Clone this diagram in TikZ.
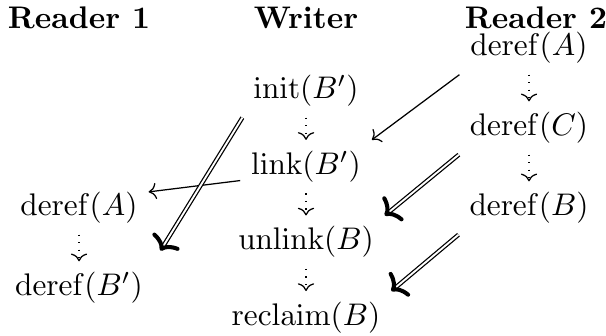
\documentclass[tikz,border=0pt]{standalone}
\usepackage{amsmath, amssymb}
\usepackage{tikz}
\usetikzlibrary{positioning, arrows.meta}

\begin{document}
\begin{tikzpicture}[
            node distance=0.25cm,
            op/.style={align=center},
            head/.style={font=\bfseries, anchor=base},
            po/.style={dotted, ->},
            rd/.style={->},
            hb/.style={double, -{To[line width=1.3pt, length=4pt, width=10pt]}}
        ]
            \useasboundingbox (0,0) rectangle (6.816,-3.779);

            % column headings
            \node[head] (r1) at (0.889,-0.315) {Reader 1};
            \node[head] (wr) at (3.442,-0.315) {Writer};
            \node[head] (r2) at (6.028,-0.315) {Reader 2};

            % writer
            \node[op] (init) at (3.442,-1.023) {$\mathrm{init}(B')$};
            \node[op, below=of init] (link) {$\mathrm{link}(B')$};
            \node[op, below=of link] (unlink) {$\mathrm{unlink}(B)$};
            \node[op, below=of unlink] (reclaim) {$\mathrm{reclaim}(B)$};

            % reader 2
            \node[op] (r2a) at (5.950,-0.540) {$\mathrm{deref}(A)$};
            \node[op, below=0.3cm of r2a] (r2c) {$\mathrm{deref}(C)$};
            \node[op, below=0.3cm of r2c] (r2b) {$\mathrm{deref}(B)$};

            % reader 1
            \node[op] (r1a) at (0.889,-2.339) {$\mathrm{deref}(A)$};
            \node[op, below=0.3cm of r1a] (r1b) {$\mathrm{deref}(B')$};

            % program order
            \draw[po] (init) -- (link);
            \draw[po] (link) -- (unlink);
            \draw[po] (unlink) -- (reclaim);
            \draw[po] (r2a) -- (r2c);
            \draw[po] (r2c) -- (r2b);
            \draw[po] (r1a) -- (r1b);

            % reads-from
            \draw[rd] (r2a.south west) -- (link.north east);
            \draw[rd] (link.192) -- (r1a.13);

            % happens-before
            \draw[hb, shorten >=4pt] (init.south west) -- (r1b.north east);
            \draw[hb] (r2c.south west) -- (unlink.north east);
            \draw[hb] (r2b.south west) -- (reclaim.north east);
        \end{tikzpicture}
\end{document}
